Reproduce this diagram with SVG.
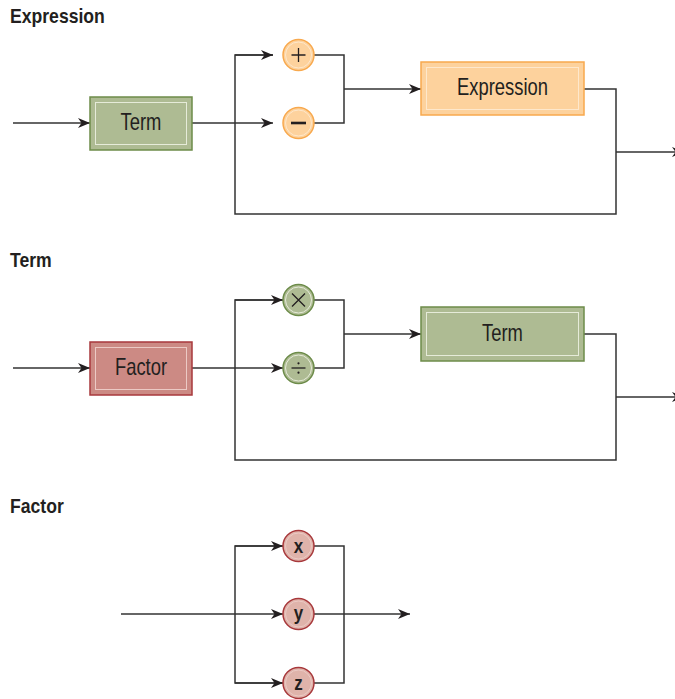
<svg xmlns="http://www.w3.org/2000/svg" width="675" height="699" viewBox="0 0 675 699">
<defs>
<marker id="arr" markerUnits="userSpaceOnUse" markerWidth="13" markerHeight="11" refX="12" refY="5" orient="auto">
<path d="M0,0 L12,5 L0,10 L3.5,5 z" fill="#231f20"/>
</marker>
<style>
.ln{fill:none;stroke:#333;stroke-width:1.5}
.ttl{font-family:"Liberation Sans",Arial,sans-serif;font-weight:bold;font-size:20px;fill:#231f20}
.lbl{font-family:"Liberation Sans",Arial,sans-serif;font-size:23px;fill:#231f20;text-anchor:middle}
.sym{font-family:"Liberation Sans",Arial,sans-serif;font-size:20px;font-weight:bold;fill:#231f20;text-anchor:middle}
.g{fill:#aebb93;stroke:#6d8c4a;stroke-width:1.5}
.gi{fill:none;stroke:#e6ebd9;stroke-width:1}
.o{fill:#fdd29d;stroke:#f8a94e;stroke-width:1.5}
.oi{fill:none;stroke:#fee8cc;stroke-width:1}
.r{fill:#cc8a84;stroke:#a8393c;stroke-width:1.5}
.ri{fill:none;stroke:#eccac5;stroke-width:1}
.rc{fill:#dfb3aa;stroke:#a8393c;stroke-width:1.5}
.op{fill:none;stroke:#231f20;stroke-width:1.3}
</style>
</defs>

<text class="ttl" transform="translate(10,23) scale(0.88,1)">Expression</text>
<text class="ttl" transform="translate(10,267) scale(0.88,1)">Term</text>
<text class="ttl" transform="translate(10,513) scale(0.88,1)">Factor</text>

<g id="connectors">
<!-- Expression -->
<line class="ln" x1="13" y1="123" x2="90" y2="123" marker-end="url(#arr)"/>
<line class="ln" x1="192" y1="123" x2="273" y2="123" marker-end="url(#arr)"/>
<polyline class="ln" points="273,55 235,55 235,214 616,214 616,89 584,89"/>
<line class="ln" x1="235" y1="55" x2="273" y2="55" marker-end="url(#arr)"/>
<polyline class="ln" points="314,55 344,55 344,123 314,123"/>
<line class="ln" x1="344" y1="89" x2="421" y2="89" marker-end="url(#arr)"/>
<line class="ln" x1="616" y1="152" x2="684" y2="152" marker-end="url(#arr)"/>
<!-- Term -->
<line class="ln" x1="13" y1="368" x2="90" y2="368" marker-end="url(#arr)"/>
<line class="ln" x1="192" y1="368" x2="283" y2="368" marker-end="url(#arr)"/>
<polyline class="ln" points="283,300 235,300 235,460 616,460 616,334 584,334"/>
<line class="ln" x1="235" y1="300" x2="283" y2="300" marker-end="url(#arr)"/>
<polyline class="ln" points="314,300 344,300 344,368 314,368"/>
<line class="ln" x1="344" y1="334" x2="421" y2="334" marker-end="url(#arr)"/>
<line class="ln" x1="616" y1="397" x2="684" y2="397" marker-end="url(#arr)"/>
<!-- Factor -->
<line class="ln" x1="121" y1="614" x2="283" y2="614" marker-end="url(#arr)"/>
<polyline class="ln" points="283,546 235,546 235,683 283,683"/>
<line class="ln" x1="235" y1="546" x2="283" y2="546" marker-end="url(#arr)"/>
<line class="ln" x1="235" y1="683" x2="283" y2="683" marker-end="url(#arr)"/>
<polyline class="ln" points="314,546 344,546 344,683 314,683"/>
<line class="ln" x1="314" y1="614" x2="410" y2="614" marker-end="url(#arr)"/>
</g>

<g id="expr-term">
<rect class="g" x="90" y="97" width="102" height="53"/>
<rect class="gi" x="95.5" y="102.5" width="91" height="42"/>
<text class="lbl" transform="translate(141,130) scale(0.8,1)">Term</text>
</g>
<g id="expr-plus">
<circle class="o" cx="298.5" cy="55" r="15.5"/>
<circle class="oi" cx="298.5" cy="55" r="13"/>
<path class="op" d="M291.5,55 H305.5 M298.5,48 V62"/>
</g>
<g id="expr-minus">
<circle class="o" cx="298.5" cy="123" r="15.5"/>
<circle class="oi" cx="298.5" cy="123" r="13"/>
<path d="M291,123 H306" stroke="#231f20" stroke-width="2.6"/>
</g>
<g id="expr-expression">
<rect class="o" x="421" y="62" width="163" height="53"/>
<rect class="oi" x="426.5" y="67.5" width="152" height="42"/>
<text class="lbl" transform="translate(502.5,95) scale(0.8,1)">Expression</text>
</g>

<g id="term-factor">
<rect class="r" x="90" y="342" width="102" height="53"/>
<rect class="ri" x="95.5" y="347.5" width="91" height="42"/>
<text class="lbl" transform="translate(141,375) scale(0.8,1)">Factor</text>
</g>
<g id="term-times">
<circle class="g" cx="298.5" cy="300" r="15.5"/>
<circle class="gi" cx="298.5" cy="300" r="13"/>
<path class="op" d="M292,293.5 L305,306.5 M305,293.5 L292,306.5"/>
</g>
<g id="term-divide">
<circle class="g" cx="298.5" cy="368" r="15.5"/>
<circle class="gi" cx="298.5" cy="368" r="13"/>
<path class="op" d="M291.5,368 H305.5"/>
<circle cx="298.5" cy="363.3" r="1.1" fill="#231f20"/>
<circle cx="298.5" cy="372.7" r="1.1" fill="#231f20"/>
</g>
<g id="term-term">
<rect class="g" x="421" y="307" width="163" height="54"/>
<rect class="gi" x="426.5" y="312.5" width="152" height="43"/>
<text class="lbl" transform="translate(502.5,341) scale(0.8,1)">Term</text>
</g>

<g id="factor-x">
<circle class="rc" cx="298.5" cy="546" r="15.5"/>
<circle class="ri" cx="298.5" cy="546" r="13"/>
<text class="sym" transform="translate(298.5,553) scale(0.85,1)">x</text>
</g>
<g id="factor-y">
<circle class="rc" cx="298.5" cy="614" r="15.5"/>
<circle class="ri" cx="298.5" cy="614" r="13"/>
<text class="sym" transform="translate(298.5,620) scale(0.85,1)">y</text>
</g>
<g id="factor-z">
<circle class="rc" cx="298.5" cy="683" r="15.5"/>
<circle class="ri" cx="298.5" cy="683" r="13"/>
<text class="sym" transform="translate(298.5,690) scale(0.85,1)">z</text>
</g>
</svg>
